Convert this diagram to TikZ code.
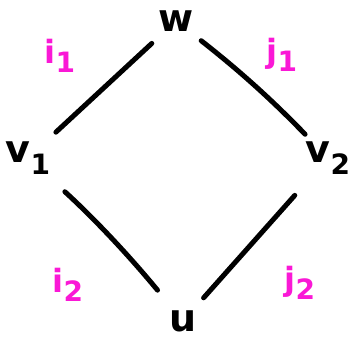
\documentclass[tikz,border=0pt]{standalone}
\usepackage{fontspec}
\setmainfont{DejaVu Sans}
\definecolor{pinkink}{RGB}{250,24,214}
\newcommand{\subsc}[1]{\raisebox{-0.3em}{\fontsize{28}{30}\selectfont #1}}
\begin{document}
\begin{tikzpicture}[x=1pt,y=-1pt,
  vert/.style={font=\bfseries\fontsize{38}{42}\selectfont, inner sep=0pt},
  lbl/.style={text=pinkink, font=\bfseries\fontsize{32}{36}\selectfont, inner sep=0pt},
  edge/.style={line width=5pt, line cap=round}]
\useasboundingbox (0,0) rectangle (357,340);
\node[vert] (w) at (176,21) {w};
\node[vert] (v1) at (28,158) {v\subsc{1}};
\node[vert] (v2) at (328,158) {v\subsc{2}};
\node[vert] (u) at (183,321) {u};
\node[lbl] (i1) at (60,56) {i\subsc{1}};
\node[lbl] (j1) at (282,55) {j\subsc{1}};
\node[lbl] (i2) at (68,285) {i\subsc{2}};
\node[lbl] (j2) at (300,283) {j\subsc{2}};
\draw[edge, shorten <=33pt, shorten >=38pt] (w.center) -- (v1.center);
\draw[edge, shorten <=32pt, shorten >=33pt] (w.center) to[bend left=4] (v2.center);
\draw[edge, shorten <=50pt, shorten >=40pt] (v1.center) to[bend left=4] (u.center);
\draw[edge, shorten <=50pt, shorten >=31pt] (v2.center) -- (u.center);
\end{tikzpicture}
\end{document}
